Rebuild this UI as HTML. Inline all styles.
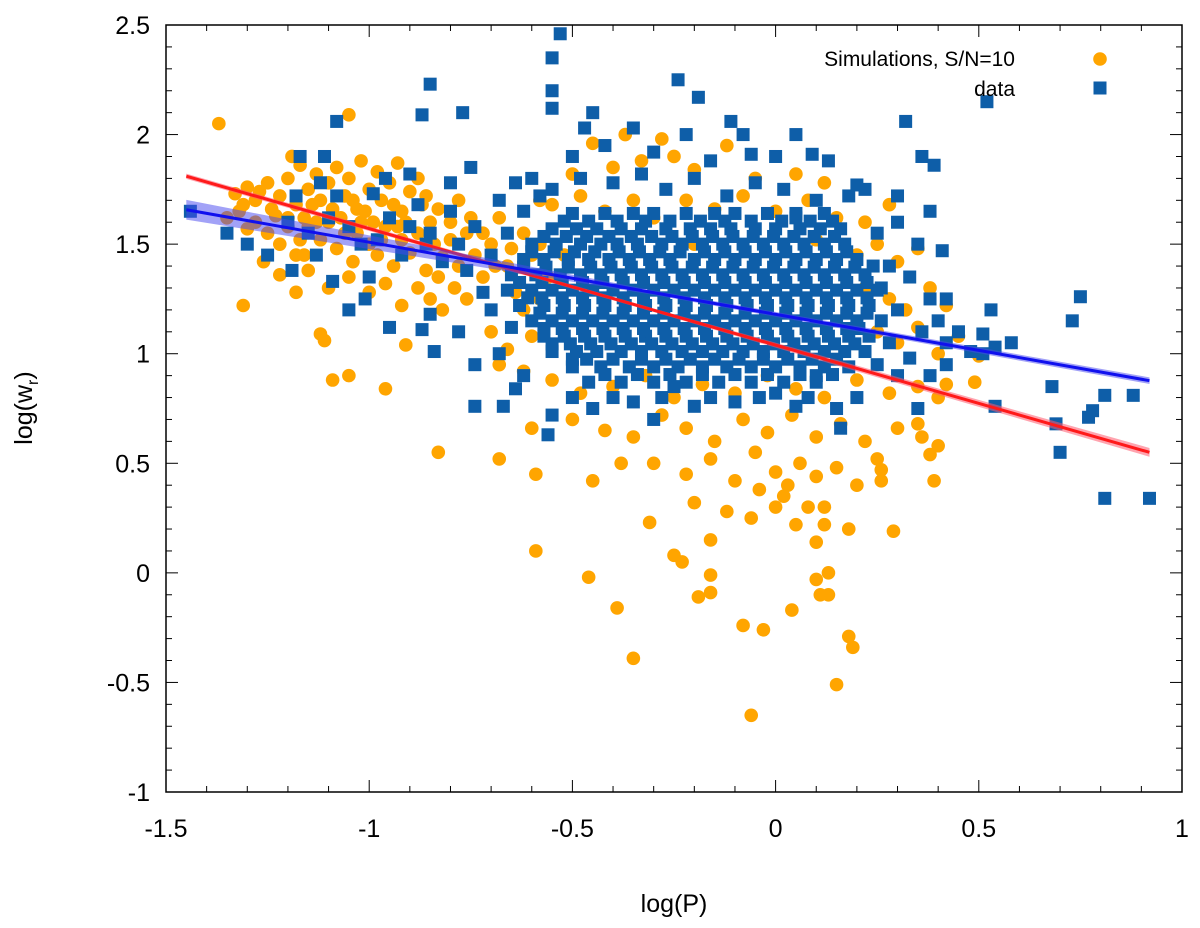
<!DOCTYPE html>
<html><head><meta charset="utf-8"><style>
html,body{margin:0;padding:0;background:#fff;}
svg{display:block;font-family:"Liberation Sans","DejaVu Sans",sans-serif;}
</style></head><body>
<svg id="chart" width="1200" height="928" viewBox="0 0 1200 928">
<g id="marks"></g>
<g id="axes"></g>
</svg>
<script>
const xTicks = [-1.5,-1,-0.5,0,0.5,1];
const xTickLabels = ["-1.5","-1","-0.5","0","0.5","1"];
const yTicks = [-1,-0.5,0,0.5,1,1.5,2,2.5];
const yTickLabels = ["-1","-0.5","0","0.5","1","1.5","2","2.5"];
const redFit = [-1.45, 1.81, 0.92, 0.55];
const blueFit = [-1.45, 1.657, 0.92, 0.877];
const simPts = [
[-1.37,2.05],[-1.31,1.22],[-1.05,2.09],[-1.12,1.09],[-1.11,1.06],[-1.09,0.88],[-1.05,0.9],[-0.96,0.84],[-0.91,1.04],[-0.83,0.55],[-0.68,0.52],[-0.59,0.45],[-0.59,0.1],[-0.46,-0.02],[-0.39,-0.16],[-0.35,-0.39],[-0.31,0.23],[-0.25,0.08],[-0.23,0.05],[-0.19,-0.11],[-0.16,-0.01],[-0.16,-0.09],[-0.08,-0.24],[-0.06,-0.65],[-0.03,-0.26],[0.04,-0.17],[0.1,-0.03],[0.11,-0.1],[0.13,0.0],[0.18,-0.29],[0.19,-0.34],[0.15,-0.51],[0.13,-0.1],[0.12,0.22],[0.29,0.19],[0.39,0.42],[0.38,0.54],[0.35,0.68],[0.26,0.42],[0.26,0.47],[0.42,0.86],[0.49,0.87],[0.5,0.99],
[-1.33,1.73],[-1.3,1.76],[-1.28,1.7],[-1.25,1.78],[-1.22,1.72],[-1.2,1.8],[-1.19,1.9],[-1.17,1.86],[-1.15,1.75],[-1.13,1.82],[-1.12,1.7],[-1.1,1.78],[-1.08,1.85],[-1.06,1.72],[-1.05,1.8],[-1.03,1.66],[-1.02,1.88],[-1.0,1.75],[-0.98,1.83],[-0.97,1.7],[-0.95,1.78],[-0.93,1.87],[-0.92,1.65],[-0.9,1.74],[-0.88,1.8],[-0.87,1.68],[-0.85,1.6],
[-1.28,1.6],[-1.25,1.55],[-1.22,1.5],[-1.2,1.62],[-1.18,1.45],[-1.15,1.58],[-1.12,1.52],[-1.1,1.6],[-1.08,1.48],[-1.06,1.55],[-1.04,1.42],[-1.02,1.6],[-1.0,1.5],[-0.98,1.45],[-0.96,1.58],[-0.94,1.4],[-0.92,1.52],[-0.9,1.46],[-0.88,1.55],[-0.86,1.38],[-0.84,1.5],[-0.82,1.44],[-0.8,1.6],
[-1.26,1.42],[-1.22,1.36],[-1.18,1.28],[-1.15,1.38],[-1.1,1.3],[-1.05,1.35],[-1.0,1.28],[-0.96,1.32],[-0.92,1.22],[-0.88,1.3],[-0.85,1.25],[-0.82,1.2],[-1.2,1.58],[-1.32,1.65],[-1.35,1.62],[-1.24,1.66],[-1.14,1.68],[-1.04,1.7],[-0.94,1.68],[-0.78,1.7],[-0.76,1.55],[-0.74,1.45],[-0.72,1.35],[-0.7,1.5],[-0.68,1.62],[-0.66,1.4],[-0.64,1.28],[-0.62,1.55],[-0.6,1.45],[-0.58,1.7],[-0.56,1.35],
[-1.31,1.68],[-1.27,1.74],[-1.23,1.63],[-1.18,1.68],[-1.16,1.62],[-1.09,1.66],[-1.07,1.62],[-1.01,1.65],[-0.99,1.6],[-0.91,1.6],[-0.86,1.72],[-0.83,1.66],[-0.8,1.52],[-0.78,1.4],[-0.75,1.62],[-0.72,1.55],[-0.69,1.4],[-0.65,1.48],[-1.3,1.57],[-1.17,1.52],[-1.13,1.6],[-0.97,1.52],[-0.93,1.58],[-0.83,1.35],[-0.79,1.3],[-0.76,1.25],[-1.03,1.55],[-1.16,1.45],
[-0.5,1.82],[-0.4,1.85],[-0.33,1.88],[-0.25,1.9],[-0.2,1.84],[-0.12,1.95],[-0.05,1.8],[0.05,1.82],[0.12,1.78],[-0.45,1.96],[-0.37,2.0],[-0.28,1.98],
[-0.55,1.68],[-0.48,1.72],[-0.42,1.65],[-0.35,1.7],[-0.3,1.62],[-0.22,1.7],[-0.15,1.66],[-0.08,1.72],[0.0,1.65],[0.08,1.7],[0.15,1.62],[0.22,1.6],[0.28,1.68],
[-0.52,1.45],[-0.2,1.5],[0.1,1.52],[0.2,1.45],[0.25,1.5],[0.3,1.42],[0.35,1.48],[-0.58,1.5],
[0.22,1.3],[0.28,1.25],[0.32,1.2],[0.38,1.3],[-0.58,1.25],[-0.62,1.2],[0.42,1.22],
[0.25,1.1],[0.3,1.05],[0.35,1.12],[0.4,1.0],[-0.6,1.08],[-0.66,1.02],[-0.7,1.1],[0.45,1.08],
[-0.55,0.88],[-0.48,0.82],[-0.4,0.85],[-0.32,0.9],[-0.25,0.8],[-0.18,0.86],[-0.1,0.82],[-0.02,0.9],[0.05,0.84],[0.12,0.8],[0.2,0.88],[0.28,0.82],[0.35,0.85],[0.4,0.8],[-0.62,0.92],[-0.68,0.95],
[-0.5,0.7],[-0.42,0.65],[-0.35,0.62],[-0.28,0.72],[-0.22,0.66],[-0.15,0.6],[-0.08,0.7],[-0.02,0.64],[0.04,0.72],[0.1,0.62],[0.16,0.68],[0.22,0.6],[0.3,0.66],[0.36,0.62],[-0.6,0.66],[0.4,0.58],
[-0.3,0.5],[-0.22,0.45],[-0.16,0.52],[-0.1,0.42],[-0.05,0.55],[0.0,0.46],[0.03,0.4],[0.06,0.5],[0.1,0.44],[0.15,0.48],[0.2,0.4],[0.25,0.52],[-0.45,0.42],[-0.38,0.5],[-0.04,0.38],[0.02,0.35],[0.08,0.3],
[-0.2,0.32],[-0.12,0.28],[-0.06,0.25],[0.0,0.3],[0.05,0.22],[0.12,0.3],[0.18,0.2],[-0.16,0.15],[0.1,0.14]
];
const obsPts = [
[-1.44,1.65],[-1.08,2.06],[-1.17,1.9],[-1.11,1.9],[-1.12,1.78],[-0.99,1.73],[-0.86,1.5],[-0.85,2.23],[-0.87,2.09],[-0.77,2.1],[-1.19,1.38],[-1.09,1.33],[-1.05,1.2],[-1.01,1.25],[-0.87,1.11],[-0.84,1.01],[-0.74,0.76],[-0.67,0.76],[-0.64,0.84],[-0.56,0.63],
[-0.53,2.46],[-0.55,2.35],[-0.55,2.2],[-0.55,2.12],[-0.47,2.03],[-0.45,2.1],[-0.24,2.25],[-0.19,2.17],[-0.11,2.06],[-0.06,1.91],[0.05,2.0],[0.09,1.91],[0.13,1.88],[0.2,1.77],[0.24,1.4],[0.32,2.06],[0.36,1.9],[0.39,1.86],[0.41,1.47],[0.42,1.25],[0.48,1.01],[0.51,1.0],[0.51,1.09],[0.53,1.2],[0.54,1.03],[0.54,0.76],[0.58,1.05],[0.68,0.85],[0.69,0.68],[0.7,0.55],[0.73,1.15],[0.75,1.26],[0.77,0.71],[0.78,0.74],[0.81,0.81],[0.81,0.34],[0.88,0.81],[0.92,0.34],[0.52,2.15],
[-1.2,1.6],[-1.15,1.55],[-1.1,1.62],[-1.05,1.58],[-1.02,1.5],[-0.98,1.52],[-0.95,1.62],[-0.92,1.45],[-0.9,1.58],[-0.88,1.68],[-0.85,1.55],[-0.82,1.42],[-0.8,1.65],[-0.78,1.5],[-0.76,1.38],[-0.74,1.58],[-0.72,1.28],[-0.7,1.45],[-0.68,1.7],[-0.66,1.55],[-0.64,1.78],[-0.62,1.65],[-0.6,1.8],[-0.58,1.72],[-1.08,1.72],[-0.9,1.82],[-0.8,1.78],[-0.75,1.85],[-0.7,1.2],[-0.78,1.1],[-0.68,1.0],[-0.74,0.95],[-0.62,0.9],[-0.65,1.12],[-0.85,1.18],[-0.95,1.12],[-1.0,1.35],[-1.13,1.45],[-1.25,1.45],[-1.3,1.5],[-1.35,1.55],[-1.18,1.72],[-0.96,1.8],
[-0.55,1.75],[-0.48,1.8],[-0.4,1.78],[-0.33,1.82],[-0.27,1.75],[-0.2,1.8],[-0.12,1.72],[-0.05,1.78],[0.02,1.75],[0.1,1.7],[0.18,1.72],[-0.5,1.9],[-0.42,1.95],[-0.3,1.92],[-0.16,1.88],[0.0,1.9],[-0.35,2.03],[-0.22,2.0],[-0.08,2.0],[0.05,1.62],
[0.25,1.55],[0.3,1.6],[0.35,1.5],[0.28,1.4],[0.33,1.35],[0.38,1.25],[0.3,1.2],[0.36,1.1],[0.4,1.15],[0.28,1.05],[0.33,0.98],[0.38,0.9],[0.42,0.95],[0.3,0.9],[0.25,0.95],[0.35,0.75],[0.42,1.05],[0.22,1.75],[0.3,1.72],[0.38,1.65],[0.45,1.1],[0.26,1.3],[0.2,0.8],[0.15,0.75],[0.1,0.9],[0.16,0.66],
[-0.5,0.8],[-0.45,0.75],[-0.35,0.78],[-0.25,0.85],[-0.2,0.76],[-0.1,0.78],[0.0,0.82],[0.05,0.76],[-0.55,0.72],[-0.3,0.7],
[-0.5,1.64],[-0.42,1.64],[-0.35,1.64],[-0.3,1.64],[-0.22,1.64],[-0.15,1.64],[-0.1,1.64],[-0.02,1.64],[0.05,1.64],[0.12,1.64],
[-0.55,1.57],[-0.49,1.57],[-0.44,1.57],[-0.38,1.57],[-0.33,1.57],[-0.27,1.57],[-0.21,1.57],[-0.16,1.57],[-0.11,1.57],[-0.05,1.57],[0.0,1.57],[0.06,1.57],[0.11,1.57],[0.16,1.57],
[-0.6,1.5],[-0.54,1.5],[-0.48,1.5],[-0.43,1.5],[-0.39,1.5],[-0.34,1.5],[-0.28,1.5],[-0.23,1.5],[-0.18,1.5],[-0.13,1.5],[-0.08,1.5],[-0.03,1.5],[0.02,1.5],[0.07,1.5],[0.12,1.5],[0.17,1.5],
[-0.62,1.43],[-0.57,1.43],[-0.51,1.43],[-0.46,1.43],[-0.41,1.43],[-0.36,1.43],[-0.31,1.43],[-0.26,1.43],[-0.2,1.43],[-0.15,1.43],[-0.1,1.43],[-0.05,1.43],[0.0,1.43],[0.05,1.43],[0.1,1.43],[0.15,1.43],[0.2,1.43],
[-0.65,1.36],[-0.59,1.36],[-0.53,1.36],[-0.48,1.36],[-0.43,1.36],[-0.38,1.36],[-0.33,1.36],[-0.28,1.36],[-0.23,1.36],[-0.18,1.36],[-0.13,1.36],[-0.08,1.36],[-0.03,1.36],[0.02,1.36],[0.07,1.36],[0.12,1.36],[0.17,1.36],[0.22,1.36],
[-0.66,1.29],[-0.6,1.29],[-0.55,1.29],[-0.5,1.29],[-0.45,1.29],[-0.4,1.29],[-0.35,1.29],[-0.3,1.29],[-0.25,1.29],[-0.2,1.29],[-0.15,1.29],[-0.1,1.29],[-0.05,1.29],[0.0,1.29],[0.05,1.29],[0.1,1.29],[0.15,1.29],[0.2,1.29],[0.25,1.29],
[-0.63,1.22],[-0.57,1.22],[-0.52,1.22],[-0.47,1.22],[-0.42,1.22],[-0.37,1.22],[-0.32,1.22],[-0.27,1.22],[-0.22,1.22],[-0.17,1.22],[-0.12,1.22],[-0.07,1.22],[-0.02,1.22],[0.03,1.22],[0.08,1.22],[0.13,1.22],[0.18,1.22],[0.23,1.22],
[-0.6,1.15],[-0.55,1.15],[-0.5,1.15],[-0.45,1.15],[-0.4,1.15],[-0.35,1.15],[-0.3,1.15],[-0.25,1.15],[-0.2,1.15],[-0.15,1.15],[-0.1,1.15],[-0.05,1.15],[0.0,1.15],[0.05,1.15],[0.1,1.15],[0.15,1.15],[0.2,1.15],[0.26,1.15],
[-0.57,1.08],[-0.52,1.08],[-0.47,1.08],[-0.42,1.08],[-0.37,1.08],[-0.32,1.08],[-0.27,1.08],[-0.22,1.08],[-0.17,1.08],[-0.12,1.08],[-0.07,1.08],[-0.02,1.08],[0.03,1.08],[0.08,1.08],[0.13,1.08],[0.18,1.08],[0.23,1.08],
[-0.55,1.01],[-0.49,1.01],[-0.44,1.01],[-0.38,1.01],[-0.33,1.01],[-0.28,1.01],[-0.23,1.01],[-0.18,1.01],[-0.13,1.01],[-0.08,1.01],[-0.03,1.01],[0.02,1.01],[0.07,1.01],[0.12,1.01],[0.17,1.01],[0.22,1.01],
[-0.5,0.94],[-0.43,0.94],[-0.36,0.94],[-0.3,0.94],[-0.24,0.94],[-0.18,0.94],[-0.12,0.94],[-0.06,0.94],[0.0,0.94],[0.06,0.94],[0.12,0.94],[0.18,0.94],
[-0.46,0.87],[-0.38,0.87],[-0.3,0.87],[-0.22,0.87],[-0.14,0.87],[-0.06,0.87],[0.02,0.87],[0.1,0.87],
[-0.4,0.8],[-0.28,0.8],[-0.16,0.8],[-0.04,0.8],[0.08,0.8],
[-0.52,1.605],[-0.46,1.605],[-0.39,1.605],[-0.32,1.605],[-0.26,1.605],[-0.185,1.605],[-0.125,1.605],[-0.06,1.605],[0.015,1.605],[0.085,1.605],[0.14,1.605],
[-0.57,1.535],[-0.515,1.535],[-0.465,1.535],[-0.41,1.535],[-0.355,1.535],[-0.305,1.535],[-0.255,1.535],[-0.205,1.535],[-0.155,1.535],[-0.105,1.535],[-0.055,1.535],[-0.005,1.535],[0.045,1.535],[0.095,1.535],[0.145,1.535],
[-0.6,1.465],[-0.545,1.465],[-0.495,1.465],[-0.445,1.465],[-0.385,1.465],[-0.335,1.465],[-0.285,1.465],[-0.235,1.465],[-0.175,1.465],[-0.125,1.465],[-0.075,1.465],[-0.025,1.465],[0.025,1.465],[0.075,1.465],[0.125,1.465],[0.175,1.465],
[-0.62,1.395],[-0.565,1.395],[-0.51,1.395],[-0.455,1.395],[-0.405,1.395],[-0.355,1.395],[-0.305,1.395],[-0.255,1.395],[-0.205,1.395],[-0.155,1.395],[-0.105,1.395],[-0.055,1.395],[-0.005,1.395],[0.045,1.395],[0.095,1.395],[0.145,1.395],[0.195,1.395],
[-0.63,1.325],[-0.575,1.325],[-0.525,1.325],[-0.475,1.325],[-0.425,1.325],[-0.375,1.325],[-0.325,1.325],[-0.275,1.325],[-0.225,1.325],[-0.175,1.325],[-0.125,1.325],[-0.075,1.325],[-0.025,1.325],[0.025,1.325],[0.075,1.325],[0.125,1.325],[0.175,1.325],[0.225,1.325],
[-0.61,1.255],[-0.575,1.255],[-0.525,1.255],[-0.475,1.255],[-0.425,1.255],[-0.375,1.255],[-0.325,1.255],[-0.275,1.255],[-0.225,1.255],[-0.175,1.255],[-0.125,1.255],[-0.075,1.255],[-0.025,1.255],[0.025,1.255],[0.075,1.255],[0.125,1.255],[0.175,1.255],[0.225,1.255],
[-0.58,1.185],[-0.525,1.185],[-0.475,1.185],[-0.425,1.185],[-0.375,1.185],[-0.325,1.185],[-0.275,1.185],[-0.225,1.185],[-0.175,1.185],[-0.125,1.185],[-0.075,1.185],[-0.025,1.185],[0.025,1.185],[0.075,1.185],[0.125,1.185],[0.175,1.185],[0.225,1.185],
[-0.57,1.115],[-0.525,1.115],[-0.475,1.115],[-0.425,1.115],[-0.375,1.115],[-0.325,1.115],[-0.275,1.115],[-0.225,1.115],[-0.175,1.115],[-0.125,1.115],[-0.075,1.115],[-0.025,1.115],[0.025,1.115],[0.075,1.115],[0.125,1.115],[0.175,1.115],[0.205,1.115],
[-0.55,1.045],[-0.505,1.045],[-0.455,1.045],[-0.405,1.045],[-0.355,1.045],[-0.305,1.045],[-0.255,1.045],[-0.205,1.045],[-0.155,1.045],[-0.105,1.045],[-0.055,1.045],[-0.005,1.045],[0.045,1.045],[0.095,1.045],[0.145,1.045],[0.195,1.045],
[-0.5,0.975],[-0.465,0.975],[-0.4,0.975],[-0.33,0.975],[-0.27,0.975],[-0.21,0.975],[-0.15,0.975],[-0.09,0.975],[-0.03,0.975],[0.03,0.975],[0.09,0.975],[0.15,0.975],
[-0.42,0.905],[-0.34,0.905],[-0.26,0.905],[-0.18,0.905],[-0.1,0.905],[-0.02,0.905],[0.06,0.905],[0.14,0.905]
];

const L=166,R=1182,T=25,B=792;
const xMin=-1.5,xMax=1,yMin=-1,yMax=2.5;
function sx(v){return L+(v-xMin)/(xMax-xMin)*(R-L);}
function sy(v){return B-(v-yMin)/(yMax-yMin)*(B-T);}
const NS="http://www.w3.org/2000/svg";
function mk(tag,attrs,parent){const e=document.createElementNS(NS,tag);for(const k in attrs)e.setAttribute(k,attrs[k]);parent.appendChild(e);return e;}
const marks=document.getElementById('marks');
const axes=document.getElementById('axes');

simPts.forEach(p=>{
  const c=mk('circle',{cx:sx(p[0]),cy:sy(p[1]),r:6.8,fill:'#FFA500'},marks);
  
  
});
obsPts.forEach(p=>{
  const s=mk('rect',{x:sx(p[0])-6.5,y:sy(p[1])-6.5,width:13,height:13,fill:'#0E5EA8'},marks);
  
  
});
function fitLine(f,color,bandColor,hwL,hwM,hwR,name){
  const x1=f[0],y1=f[1],x2=f[2],y2=f[3];
  const m=(y2-y1)/(x2-x1);
  const xm=-0.3, ym=y1+m*(xm-x1);
  const pts=[[x1,y1+hwL],[xm,ym+hwM],[x2,y2+hwR],[x2,y2-hwR],[xm,ym-hwM],[x1,y1-hwL]];
  const band=mk('polygon',{points:pts.map(p=>sx(p[0])+','+sy(p[1])).join(' '),fill:bandColor},marks);
  
  
  const ln=mk('line',{x1:sx(x1),y1:sy(y1),x2:sx(x2),y2:sy(y2),stroke:color,'stroke-width':3},marks);
  
  
}
fitLine(redFit,'#ff1a1a','rgba(255,90,110,0.55)',0.012,0.008,0.02,'simulation-fit-line');
fitLine(blueFit,'#1010ee','rgba(70,70,240,0.5)',0.045,0.01,0.015,'data-fit-line');

const fr=mk('rect',{x:L,y:T,width:R-L,height:B-T,fill:'none',stroke:'#000','stroke-width':1.5},axes);


for(let i=0;i<=25;i++){
  const v=xMin+i*0.1, X=sx(v);
  const len=(i%5===0)?12:6;
  mk('line',{x1:X,y1:B,x2:X,y2:B-len,stroke:'#000','stroke-width':1},axes);
  mk('line',{x1:X,y1:T,x2:X,y2:T+len,stroke:'#000','stroke-width':1},axes);
}
for(let i=0;i<=35;i++){
  const v=yMin+i*0.1, Y=sy(v);
  const len=(i%5===0)?12:6;
  mk('line',{x1:L,y1:Y,x2:L+len,y2:Y,stroke:'#000','stroke-width':1},axes);
  mk('line',{x1:R,y1:Y,x2:R-len,y2:Y,stroke:'#000','stroke-width':1},axes);
}
xTicks.forEach((v,i)=>{
  const t=mk('text',{x:sx(v),y:837,'text-anchor':'middle','font-size':25,fill:'#000'},axes);
  t.textContent=xTickLabels[i];
  
  
});
yTicks.forEach((v,i)=>{
  const t=mk('text',{x:150,y:sy(v)+9,'text-anchor':'end','font-size':25,fill:'#000'},axes);
  t.textContent=yTickLabels[i];
  
  
});
</script>
<svg width="1200" height="928" style="position:absolute;left:0;top:0;">
<text x="674" y="912" text-anchor="middle" font-size="25" fill="#000" font-family="Liberation Sans, sans-serif">log(P)</text>
<text transform="translate(32,408) rotate(-90)" text-anchor="middle" font-size="25" fill="#000" font-family="Liberation Sans, sans-serif">log(w<tspan font-size="16" dy="6">r</tspan><tspan dy="-6">)</tspan></text>
<g>
<text x="1015" y="66" text-anchor="end" font-size="21" fill="#000" font-family="Liberation Sans, sans-serif">Simulations, S/N=10</text>
<circle cx="1100" cy="59" r="6.8" fill="#FFA500"/>
<text x="1015" y="96" text-anchor="end" font-size="21" fill="#000" font-family="Liberation Sans, sans-serif">data</text>
<rect x="1093.5" y="81.5" width="13" height="13" fill="#0E5EA8"/>
</g>
</svg>
</body></html>
